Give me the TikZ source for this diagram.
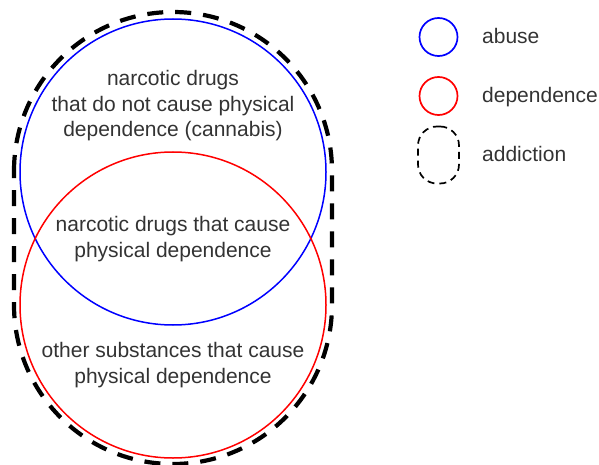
\documentclass[tikz,border=0pt]{standalone}
\usepackage{fontspec}
\setmainfont{Liberation Sans}
\definecolor{txt}{HTML}{333333}
\begin{document}
\begin{tikzpicture}[x=1pt,y=-1pt,
  lbl/.style={font=\fontsize{21}{25.5}\selectfont, text=txt, align=center, anchor=base, inner sep=0pt},
  leg/.style={font=\fontsize{21}{25.5}\selectfont, text=txt, anchor=base west, inner sep=0pt},
  setcirc/.style={circle, draw=#1, line width=1.5pt, minimum size=306pt, inner sep=0pt},
  legcirc/.style={circle, draw=#1, line width=1.7pt, minimum size=38pt, inner sep=0pt},
  addict/.style={draw=black, line width=4.2pt, dash pattern=on 16pt off 12pt},
  legaddict/.style={draw=black, line width=1.7pt, dash pattern=on 7pt off 5pt, rounded corners=19pt, minimum width=41pt, minimum height=57pt, inner sep=0pt}]
\useasboundingbox (0,0) rectangle (599,465);
% addiction outline (stadium)
\draw[addict] (14,171) arc[start angle=180, end angle=360, radius=159]
  -- (332,305) arc[start angle=0, end angle=180, radius=159] -- cycle;
% sets
\node[setcirc=blue] (abuse) at (173,172) {};
\node[setcirc=red] (dep) at (173,305) {};
% labels (anchor = baseline of last line)
\node[lbl] (t1) at (173,137) {narcotic drugs\\that do not cause physical\\dependence (cannabis)};
\node[lbl] (t2) at (173,257) {narcotic drugs that cause\\physical dependence};
\node[lbl] (t3) at (173,383) {other substances that cause\\physical dependence};
% legend
\node[legcirc=blue] (lb) at (438.5,37) {};
\node[legcirc=red] (lr) at (438.5,96) {};
\node[legaddict] (la) at (438.5,155) {};
\node[leg] (lbt) at (482,44) {abuse};
\node[leg] (lrt) at (482,103) {dependence};
\node[leg] (lat) at (482,162) {addiction};
\end{tikzpicture}
\end{document}
